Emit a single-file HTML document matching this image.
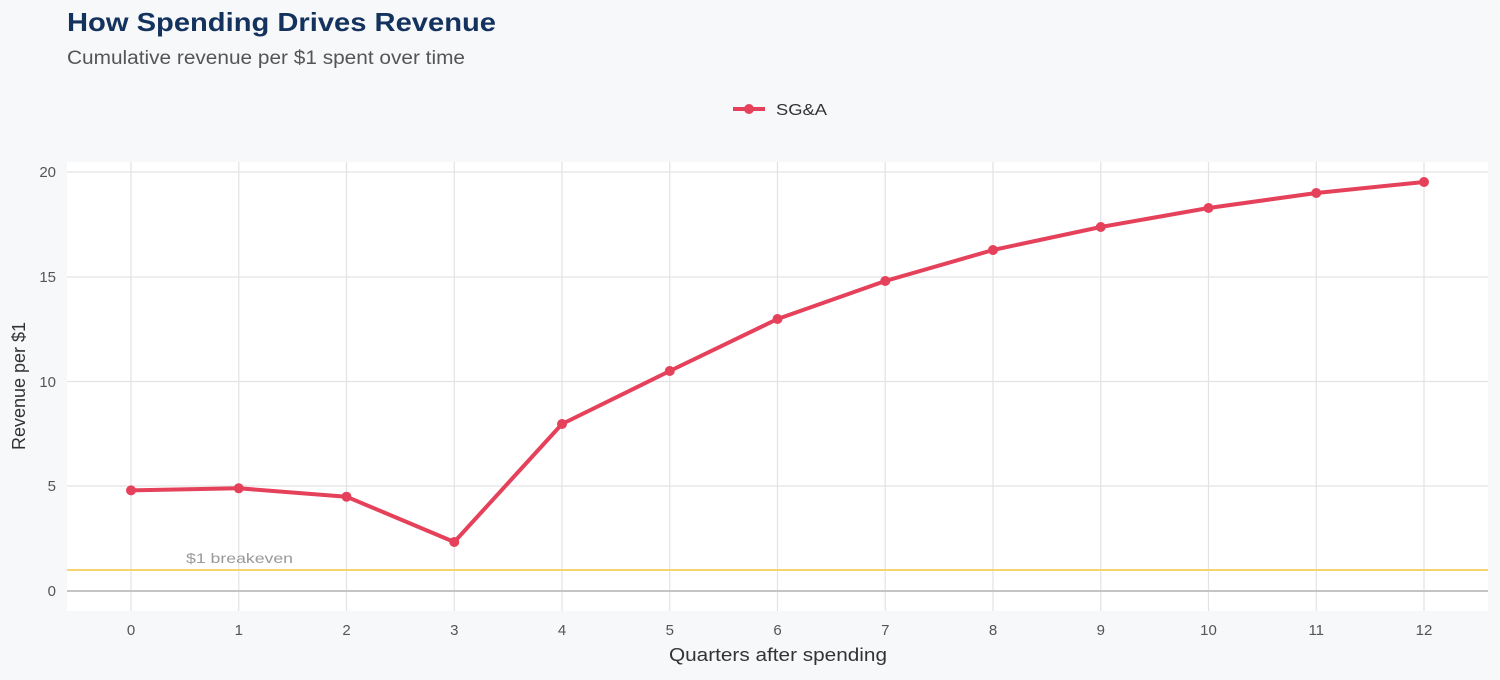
<!DOCTYPE html>
<html><head><meta charset="utf-8"><style>
body{margin:0;background:#f7f8fa;width:1500px;height:675px;overflow:hidden;font-family:"Liberation Sans",sans-serif}
</style></head><body>
<svg width="1500" height="675" xmlns="http://www.w3.org/2000/svg" font-family="Liberation Sans, sans-serif">
<rect width="1500" height="675" fill="#f7f8fa"/>
<text x="67" y="31" font-size="26" font-weight="bold" fill="#14325e" textLength="429" lengthAdjust="spacingAndGlyphs">How Spending Drives Revenue</text>
<text x="67" y="64" font-size="19" fill="#555" textLength="398" lengthAdjust="spacingAndGlyphs">Cumulative revenue per $1 spent over time</text>
<line x1="733" y1="109" x2="765" y2="109" stroke="#e5415b" stroke-width="4"/>
<circle cx="749" cy="109" r="5" fill="#e5415b"/>
<text x="776" y="115" font-size="16" fill="#333" textLength="51" lengthAdjust="spacingAndGlyphs">SG&amp;A</text>
<rect x="67" y="162" width="1421" height="449" fill="#fff"/>
<g stroke="#e3e3e3" stroke-width="1.2">
<line x1="67" x2="1488" y1="172" y2="172"/><line x1="67" x2="1488" y1="277" y2="277"/>
<line x1="67" x2="1488" y1="381.5" y2="381.5"/><line x1="67" x2="1488" y1="486" y2="486"/>
<line x1="131" x2="131" y1="162" y2="611"/><line x1="238.75" x2="238.75" y1="162" y2="611"/>
<line x1="346.5" x2="346.5" y1="162" y2="611"/><line x1="454.25" x2="454.25" y1="162" y2="611"/>
<line x1="562" x2="562" y1="162" y2="611"/><line x1="669.75" x2="669.75" y1="162" y2="611"/>
<line x1="777.5" x2="777.5" y1="162" y2="611"/><line x1="885.25" x2="885.25" y1="162" y2="611"/>
<line x1="993" x2="993" y1="162" y2="611"/><line x1="1100.75" x2="1100.75" y1="162" y2="611"/>
<line x1="1208.5" x2="1208.5" y1="162" y2="611"/><line x1="1316.25" x2="1316.25" y1="162" y2="611"/>
<line x1="1424" x2="1424" y1="162" y2="611"/>
</g>
<line x1="67" x2="1488" y1="591" y2="591" stroke="#c4c4c4" stroke-width="2"/>
<line x1="67" x2="1488" y1="570" y2="570" stroke="#f5d36e" stroke-width="2"/>
<text x="186" y="563" font-size="14" fill="#999" textLength="107" lengthAdjust="spacingAndGlyphs">$1 breakeven</text>
<g font-size="15" fill="#555" text-anchor="end">
<text x="56" y="177">20</text><text x="56" y="282">15</text><text x="56" y="387">10</text><text x="56" y="491">5</text><text x="56" y="596">0</text>
</g>
<g font-size="15" fill="#555" text-anchor="middle">
<text x="131" y="635">0</text><text x="238.75" y="635">1</text><text x="346.5" y="635">2</text><text x="454.25" y="635">3</text><text x="562" y="635">4</text><text x="669.75" y="635">5</text><text x="777.5" y="635">6</text><text x="885.25" y="635">7</text><text x="993" y="635">8</text><text x="1100.75" y="635">9</text><text x="1208.5" y="635">10</text><text x="1316.25" y="635">11</text><text x="1424" y="635">12</text>
</g>
<text x="669" y="661" font-size="18" fill="#333" textLength="218" lengthAdjust="spacingAndGlyphs">Quarters after spending</text>
<text transform="translate(25,386) rotate(-90)" font-size="18" fill="#333" text-anchor="middle">Revenue per $1</text>
<polyline fill="none" stroke="#e5415b" stroke-width="4" stroke-linejoin="round" points="131,490.4 238.75,488.3 346.5,496.7 454.25,542 562,424 669.75,371 777.5,319 885.25,281 993,250 1100.75,227 1208.5,208 1316.25,193 1424,182"/>
<g fill="#e5415b">
<circle cx="131" cy="490.4" r="5"/><circle cx="238.75" cy="488.3" r="5"/><circle cx="346.5" cy="496.7" r="5"/><circle cx="454.25" cy="542" r="5"/><circle cx="562" cy="424" r="5"/><circle cx="669.75" cy="371" r="5"/><circle cx="777.5" cy="319" r="5"/><circle cx="885.25" cy="281" r="5"/><circle cx="993" cy="250" r="5"/><circle cx="1100.75" cy="227" r="5"/><circle cx="1208.5" cy="208" r="5"/><circle cx="1316.25" cy="193" r="5"/><circle cx="1424" cy="182" r="5"/>
</g>
</svg>
</body></html>
